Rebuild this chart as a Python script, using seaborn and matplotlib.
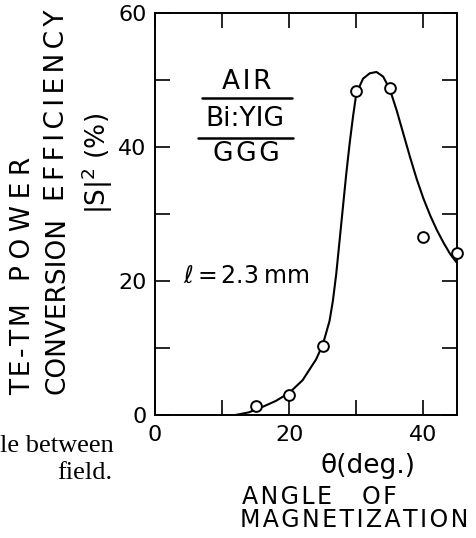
import matplotlib
matplotlib.use("Agg")
import matplotlib.pyplot as plt
import seaborn as sns
import pandas as pd

# measured points
theta_pts = [15, 20, 25, 30, 35, 40, 45]
eff_pts = [1.3, 3.0, 10.3, 48.4, 48.8, 26.6, 24.2]

# hand-drawn fit curve
theta_curve = [12, 14, 16, 18, 20, 22, 24, 25, 26, 26.5, 27, 27.5, 28, 28.5, 29, 29.5, 30,
               31, 32, 33, 34, 35, 36, 37, 38, 39, 40, 41, 42, 43, 44, 45]
eff_curve = [0.0, 0.4, 1.2, 2.1, 3.3, 5.2, 8.3, 10.5, 14.0, 17.0, 21.0, 26.0, 31.0, 36.0, 40.5, 44.5, 48.0,
             50.2, 51.0, 51.2, 50.5, 48.6, 45.5, 42.0, 38.5, 35.2, 32.3, 29.8, 27.6, 25.7, 24.0, 22.7]

x_ticks = [0, 20, 40]
y_ticks = [0, 20, 40, 60]

sns.set_theme(style="ticks")
plt.rcParams['font.family'] = ['DejaVu Sans']

W, H = 476, 538
fig = plt.figure(figsize=(W / 100, H / 100), dpi=100)
ax = fig.add_axes([155 / W, 1 - 415 / H, (457 - 155) / W, (415 - 13) / H])

df_c = pd.DataFrame({"theta": theta_curve, "eff": eff_curve})
df_p = pd.DataFrame({"theta": theta_pts, "eff": eff_pts})
sns.lineplot(data=df_c, x="theta", y="eff", ax=ax, color="black", linewidth=1.5, sort=False)
sns.scatterplot(data=df_p, x="theta", y="eff", ax=ax, s=60, facecolor="white",
                edgecolor="black", linewidth=1.4, zorder=5, clip_on=False)

ax.set_xlim(0, 45)
ax.set_ylim(0, 60)
ax.set_xlabel("")
ax.set_ylabel("")
ax.set_xticks(x_ticks)
ax.set_xticks([10, 30], minor=True)
ax.set_yticks(y_ticks)
ax.set_yticks([10, 30, 50], minor=True)
for which in ("major", "minor"):
    ax.tick_params(axis="both", which=which, direction="in", length=11, width=1.2,
                   top=True, right=True, color="black")
ax.tick_params(axis="x", which="major", labelsize=16, pad=7, colors="black")
ax.tick_params(axis="y", which="major", labelsize=16, pad=6, colors="black")
for s in ax.spines.values():
    s.set_linewidth(1.4)
    s.set_color("black")


def fx(x):
    return x / W


def fy(y):
    return 1 - y / H


def sp(word, gap):
    return gap.join(word)


HAIR, SIXTH, THIN, QUART, THIRD = "\u200a", "\u2006", "\u2009", "\u2005", "\u2004"
tk = dict(color="black")

# y-axis labels (rotated; va='bottom' anchors the start of the text)
fig.text(fx(23), fy(395), sp("TE-TM", HAIR), rotation=90, ha="center", va="bottom", fontsize=19, **tk)
fig.text(fx(23), fy(281), sp("POWER", QUART), rotation=90, ha="center", va="bottom", fontsize=19, **tk)
fig.text(fx(57), fy(394), "CONVERSION", rotation=90, ha="center", va="bottom", fontsize=19, **tk)
fig.text(fx(57), fy(201), sp("EFFICIENCY", SIXTH), rotation=90, ha="center", va="bottom", fontsize=19, **tk)
fig.text(fx(97), fy(214), "|S|$^2$ (%)", rotation=90, ha="center", va="bottom", fontsize=19, **tk)

# x-axis labels
fig.text(fx(320), fy(466), "θ(deg.)", ha="left", va="center", fontsize=19, **tk)
fig.text(fx(242), fy(497), sp("ANGLE", HAIR), ha="left", va="center", fontsize=17, **tk)
fig.text(fx(362), fy(497), sp("OF", HAIR), ha="left", va="center", fontsize=17, **tk)
fig.text(fx(240), fy(520), sp("MAGNETIZATION", HAIR), ha="left", va="center", fontsize=17, **tk)

# layer annotation
fig.text(fx(247), fy(82), sp("AIR", HAIR), ha="center", va="center", fontsize=19, **tk)
fig.text(fx(245), fy(119), "Bi:YIG", ha="center", va="center", fontsize=19, **tk)
fig.text(fx(246), fy(154), sp("GGG", HAIR), ha="center", va="center", fontsize=19, **tk)
fig.add_artist(plt.Line2D([fx(202), fx(292)], [fy(98), fy(98)], color="black", lw=1.8))
fig.add_artist(plt.Line2D([fx(198), fx(293)], [fy(138), fy(138)], color="black", lw=1.8))
fig.text(fx(183), fy(276), "$\\ell$" + SIXTH + "=" + SIXTH + "2.3" + THIN + "mm",
         ha="left", va="center", fontsize=17, **tk)

# caption fragments
fig.text(fx(0), fy(452), "le between", ha="left", va="baseline", fontsize=19,
         family="Liberation Serif", color="black")
fig.text(fx(57), fy(479), "field.", ha="left", va="baseline", fontsize=19,
         family="Liberation Serif", color="black")

fig.savefig("out.png", dpi=100, facecolor="white")
